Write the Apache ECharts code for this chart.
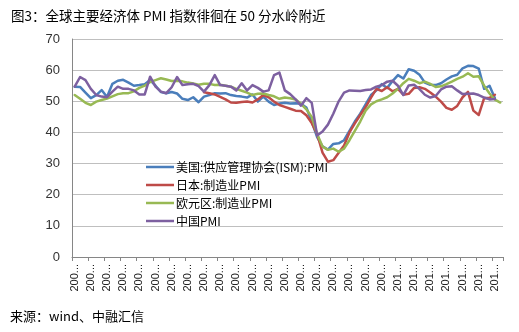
<!DOCTYPE html>
<html><head><meta charset="utf-8">
<script src="https://cdn.jsdelivr.net/npm/echarts@6.0.0/dist/echarts.min.js"></script>
<style>html,body{margin:0;padding:0;background:#fff}#c{width:519px;height:332px}</style>
</head><body><div id="c"></div>
<script>
const categories = [
"2005-01","2005-02","2005-03","2005-04","2005-05","2005-06","2005-07","2005-08","2005-09","2005-10","2005-11","2005-12",
"2006-01","2006-02","2006-03","2006-04","2006-05","2006-06","2006-07","2006-08","2006-09","2006-10","2006-11","2006-12",
"2007-01","2007-02","2007-03","2007-04","2007-05","2007-06","2007-07","2007-08","2007-09","2007-10","2007-11","2007-12",
"2008-01","2008-02","2008-03","2008-04","2008-05","2008-06","2008-07","2008-08","2008-09","2008-10","2008-11","2008-12",
"2009-01","2009-02","2009-03","2009-04","2009-05","2009-06","2009-07","2009-08","2009-09","2009-10","2009-11","2009-12",
"2010-01","2010-02","2010-03","2010-04","2010-05","2010-06","2010-07","2010-08","2010-09","2010-10","2010-11","2010-12",
"2011-01","2011-02","2011-03","2011-04","2011-05","2011-06","2011-07","2011-08"
];
const usISM = [
54.7,54.6,52.8,51.0,52.0,53.6,51.4,55.6,56.6,56.9,
56.0,55.0,55.2,55.5,56.8,55.0,53.0,52.6,53.0,52.5,
50.8,50.4,51.3,49.7,51.5,52.0,52.6,52.5,52.6,52.0,
51.7,51.5,51.2,52.2,49.9,51.5,49.9,48.8,49.3,49.5,
49.3,49.4,49.2,48.0,43.5,38.5,35.5,34.5,36.3,36.5,
37.5,40.5,43.5,46.0,49.0,52.0,53.5,55.5,54.3,56.5,
58.4,57.3,60.3,59.8,58.5,56.0,55.3,55.2,55.8,57.0,
58.0,58.5,60.6,61.4,61.3,60.5,54.0,55.0,51.0,null
];
const japanPMI = [
null,null,null,null,null,null,null,null,null,null,
null,null,null,null,null,null,null,null,null,null,
null,null,null,null,52.9,52.6,52.2,51.4,50.6,49.6,
49.5,49.8,49.9,49.6,50.6,52.0,51.3,49.9,48.8,48.2,
47.6,47.0,46.9,45.5,43.0,39.5,33.5,30.6,31.1,33.5,
35.8,40.0,42.9,45.6,48.1,51.2,54.0,53.3,54.5,53.2,
54.0,52.1,52.4,54.3,54.5,54.0,52.8,51.5,49.9,47.9,
47.3,48.5,51.3,53.0,47.0,45.6,51.0,51.1,52.1,null
];
const euroPMI = [
52.0,50.8,49.5,48.8,49.9,50.4,50.9,51.6,52.3,52.6,
52.6,53.2,54.3,55.0,56.2,56.8,57.4,57.0,56.5,56.6,
56.4,56.0,55.7,55.3,55.6,55.6,55.2,55.3,55.0,54.7,
54.0,53.4,52.8,52.0,52.4,52.5,52.0,51.6,50.8,51.2,
51.0,50.6,49.2,47.4,45.0,39.5,35.5,34.4,34.8,33.8,
34.8,37.5,40.5,43.5,47.0,49.0,50.0,50.6,51.3,52.5,
54.0,55.8,57.2,56.6,55.8,56.3,55.6,54.6,54.8,55.5,
56.3,57.2,57.9,59.0,57.9,58.0,55.0,52.5,50.5,49.6
];
const chinaPMI = [
54.7,57.8,56.8,54.0,52.0,51.5,51.3,53.1,54.7,54.0,
54.0,53.5,52.2,52.2,57.9,54.7,53.1,52.6,54.5,57.8,
55.2,55.5,55.6,54.9,53.1,55.2,58.4,55.2,55.0,54.7,
53.5,55.8,53.5,55.2,54.3,53.1,53.5,58.4,59.2,53.5,
52.3,50.6,48.6,51.0,49.5,39.0,40.3,42.5,46.0,50.0,
52.8,53.5,53.4,53.3,53.6,53.8,54.7,55.2,56.3,56.6,
55.0,52.0,55.1,55.3,53.9,52.1,51.2,51.7,53.8,54.7,
54.8,53.5,52.3,52.4,52.5,52.0,51.2,50.6,50.7,null
];
const seriesNames = ["美国:供应管理协会(ISM):PMI","日本:制造业PMI","欧元区:制造业PMI","中国PMI"];
const seriesColors = ["#4a7ebb","#be4b48","#98b954","#7d60a0"];
const yMin = 0, yMax = 70, yInterval = 10;
const titleText = "图3：全球主要经济体 PMI 指数徘徊在 50 分水岭附近";
const sourceText = "来源：wind、中融汇信";

const chart = echarts.init(document.getElementById('c'));
const cjk = '"Noto Sans CJK SC", "Noto Sans", sans-serif';
const dataSets = [usISM, japanPMI, euroPMI, chinaPMI];
chart.setOption({
  animation: false,
  backgroundColor: '#fff',
  title: [
    {text: titleText, left: 6, top: 4, textStyle: {fontSize: 13.5, fontWeight: 'normal', color: '#000', fontFamily: cjk}},
    {text: sourceText, left: 5, top: 305, textStyle: {fontSize: 13, fontWeight: 'normal', color: '#000', fontFamily: cjk}}
  ],
  legend: {
    orient: 'vertical', left: 141, top: 156, itemWidth: 28, itemHeight: 2.5, itemGap: 6,
    icon: 'rect',
    textStyle: {fontSize: 12, lineHeight: 12, color: '#000', fontFamily: cjk, padding: [0,0,0,-3]},
    data: seriesNames.map(n => ({name: n}))
  },
  grid: {left: 72, right: 16, top: 39, bottom: 75},
  xAxis: {
    type: 'category', data: categories, boundaryGap: true,
    axisLine: {lineStyle: {color: '#868686', width: 1}},
    axisTick: {show: true, interval: 2, length: 4, lineStyle: {color: '#868686'}},
    axisLabel: {interval: 2, rotate: 90, fontSize: 11, color: '#222', margin: 7,
      fontFamily: 'Liberation Sans, sans-serif',
      formatter: v => v.slice(0, 3) + '...'},
    splitLine: {show: false}
  },
  yAxis: {
    type: 'value', min: yMin, max: yMax, interval: yInterval,
    axisLine: {show: true, lineStyle: {color: '#868686'}},
    axisTick: {show: false},
    axisLabel: {fontSize: 13, color: '#333', margin: 12, fontFamily: 'Liberation Sans, sans-serif'},
    splitLine: {lineStyle: {color: '#bfbfbf', width: 1}}
  },
  series: seriesNames.map((n, i) => ({
    name: n, type: 'line', data: dataSets[i], symbol: 'none', showSymbol: false,
    connectNulls: false,
    lineStyle: {color: seriesColors[i], width: 2.5, join: 'round', cap: 'round'},
    itemStyle: {color: seriesColors[i]}
  }))
});
</script>
</body></html>
